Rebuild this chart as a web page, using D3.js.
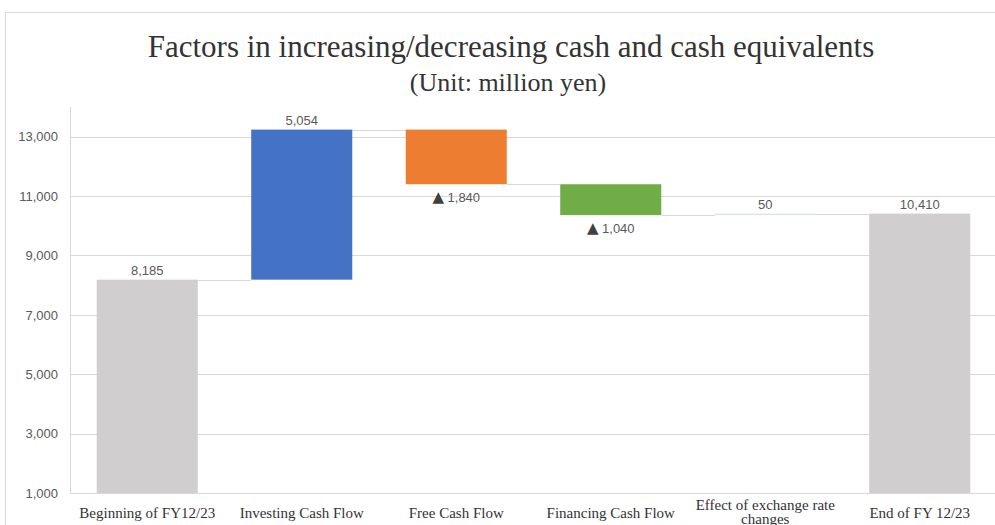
<!DOCTYPE html>
<html>
<head>
<meta charset="utf-8">
<script src="https://cdn.jsdelivr.net/npm/d3@7"></script>
<style>
  body { margin: 0; background: #fff; }
  svg { display: block; }
</style>
</head>
<body>
<div id="chart"></div>
<script>
// waterfall data
const categories = ["Beginning of FY12/23", "Investing Cash Flow", "Free Cash Flow",
  "Financing Cash Flow", "Effect of exchange rate changes", "End of FY 12/23"];
const changes = [8185, 5054, -1840, -1040, 50, 10410];
const kinds = ["total", "up", "down", "down", "up", "total"];
const colors = ["#d0cece", "#4472c4", "#ed7d31", "#70ad47", "#dde3ee", "#d0cece"];
const yTicks = [1000, 3000, 5000, 7000, 9000, 11000, 13000];

const W = 995, H = 525;
const plot = { left: 70, right: 997, top: 107, bottom: 493 };

const svg = d3.select("#chart").append("svg")
  .attr("width", W)
  .attr("height", H);

// chart frame
svg.append("rect")
  .attr("x", 5.5).attr("y", 12.5)
  .attr("width", W + 20).attr("height", H + 20)
  .attr("fill", "none")
  .attr("stroke", "#d9d9d9");

// title
svg.append("text")
  .attr("x", 511).attr("y", 57)
  .attr("text-anchor", "middle")
  .style("font-family", "'Liberation Serif', serif")
  .style("font-size", "31px")
  .attr("fill", "#333")
  .text("Factors in increasing/decreasing cash and cash equivalents");

svg.append("text")
  .attr("x", 508).attr("y", 91)
  .attr("text-anchor", "middle")
  .style("font-family", "'Liberation Serif', serif")
  .style("font-size", "26px")
  .attr("fill", "#333")
  .text("(Unit: million yen)");

// build running totals
let running = 0;
const bars = categories.map((c, i) => {
  let start, end;
  if (kinds[i] === "total") {
    start = 1000; end = changes[i];
    running = changes[i];
  } else {
    start = running; end = running + changes[i];
    running = end;
  }
  return { cat: c, start, end, value: changes[i], kind: kinds[i], color: colors[i] };
});

const x = d3.scaleBand()
  .domain(categories)
  .range([plot.left, plot.right])
  .paddingInner(0.346)
  .paddingOuter(0.173);

const y = d3.scaleLinear()
  .domain([1000, 14000])
  .range([plot.bottom, plot.top]);

// gridlines
svg.append("g")
  .selectAll("line")
  .data(yTicks)
  .enter()
  .append("line")
  .attr("x1", plot.left).attr("x2", W)
  .attr("y1", d => Math.round(y(d)) + 0.5)
  .attr("y2", d => Math.round(y(d)) + 0.5)
  .attr("stroke", "#d9d9d9")
  .attr("stroke-width", 1);

// vertical axis line
svg.append("line")
  .attr("x1", plot.left + 0.5).attr("x2", plot.left + 0.5)
  .attr("y1", plot.top).attr("y2", plot.bottom)
  .attr("stroke", "#d9d9d9");

// y axis labels
const yAxis = svg.append("g")
  .attr("transform", `translate(${plot.left - 12},0)`)
  .call(d3.axisLeft(y).tickValues(yTicks).tickSize(0).tickPadding(0).tickFormat(d3.format(",")));
yAxis.select(".domain").remove();
yAxis.selectAll("text")
  .style("font-family", "'Liberation Sans', Arial, sans-serif")
  .style("font-size", "13px")
  .attr("fill", "#595959");

// connectors
svg.append("g")
  .selectAll("line")
  .data(bars.slice(0, -1))
  .enter()
  .append("line")
  .attr("x1", d => x(d.cat) + x.bandwidth())
  .attr("x2", (d, i) => x(categories[i + 1]))
  .attr("y1", d => Math.round(y(d.end)) + 0.5)
  .attr("y2", d => Math.round(y(d.end)) + 0.5)
  .attr("stroke", "#d9d9d9")
  .attr("stroke-width", 1);

// bars
svg.append("g")
  .selectAll("rect")
  .data(bars)
  .enter()
  .append("rect")
  .attr("x", d => x(d.cat))
  .attr("y", d => y(Math.max(d.start, d.end)))
  .attr("width", x.bandwidth())
  .attr("height", d => Math.max(1, Math.abs(y(d.start) - y(d.end))))
  .attr("fill", d => d.color);

// data labels
const labels = svg.append("g")
  .style("font-family", "'Liberation Sans', Arial, sans-serif")
  .style("font-size", "13px")
  .attr("fill", "#595959");

bars.forEach(d => {
  const cx = x(d.cat) + x.bandwidth() / 2;
  if (d.value < 0) {
    const t = labels.append("text")
      .attr("x", cx)
      .attr("y", y(Math.min(d.start, d.end)) + 18)
      .attr("text-anchor", "middle");
    t.append("tspan")
      .style("font-family", "'DejaVu Sans', sans-serif")
      .style("font-size", "15px")
      .attr("fill", "#404040")
      .text("▲");
    t.append("tspan").text(" " + d3.format(",")(-d.value));
  } else {
    labels.append("text")
      .attr("x", cx)
      .attr("y", y(Math.max(d.start, d.end)) - 5)
      .attr("text-anchor", "middle")
      .text(d3.format(",")(d.value));
  }
});

// category labels
const catG = svg.append("g")
  .style("font-family", "'Liberation Serif', serif")
  .style("font-size", "15px")
  .attr("fill", "#333");

categories.forEach(c => {
  const cx = x(c) + x.bandwidth() / 2;
  if (c === "Effect of exchange rate changes") {
    catG.append("text").attr("x", cx).attr("y", 510).attr("text-anchor", "middle").text("Effect of exchange rate");
    catG.append("text").attr("x", cx).attr("y", 524).attr("text-anchor", "middle").text("changes");
  } else {
    catG.append("text").attr("x", cx).attr("y", 518).attr("text-anchor", "middle").text(c);
  }
});
</script>
</body>
</html>
